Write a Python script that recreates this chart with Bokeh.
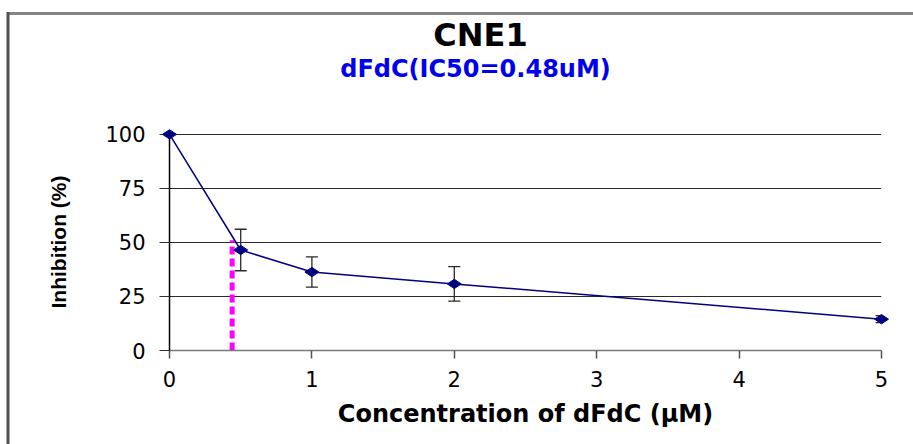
import numpy as np
from bokeh.plotting import figure
from bokeh.models import Range1d, FixedTicker, Whisker, ColumnDataSource, TeeHead
from bokeh.core.properties import value
from bokeh.embed import file_html
from bokeh.resources import INLINE

# ---- data ----
conc = [0, 0.5, 1, 2, 5]
inhibition = [100, 46.5, 36.3, 30.8, 14.5]
err = [0, 9.6, 7.0, 8.0, 1.6]
ic50_x = [0.44, 0.44]
ic50_y = [0, 51]
x_ticks = [0, 1, 2, 3, 4, 5]
y_ticks = [0, 25, 50, 75, 100]
title_text = "CNE1"
subtitle_text = "dFdC(IC50=0.48uM)"
x_title = "Concentration of dFdC (µM)"
y_title = "Inhibition (%)"

W, H = 913, 444
FL, FR, FT, FB = 169, 881, 134, 350   # frame edges in pixels
X0, X1, Y0, Y1 = 0, 5, 0, 100.4

p = figure(width=W, height=H, output_backend="svg", toolbar_location=None,
           x_range=Range1d(X0, X1), y_range=Range1d(Y0, Y1),
           min_border_left=FL, min_border_right=W - FR,
           min_border_top=FT - 1, min_border_bottom=H - FB,
           background_fill_color="white", border_fill_color="white")
p.outline_line_color = None
p.xgrid.grid_line_color = None
p.ygrid.grid_line_color = "#2a2a2a"
p.ygrid.grid_line_width = 1
p.ygrid.ticker = FixedTicker(ticks=y_ticks)

# axes
p.xaxis.ticker = FixedTicker(ticks=x_ticks)
p.yaxis.ticker = FixedTicker(ticks=y_ticks)
for ax in (p.xaxis, p.yaxis):
    ax.minor_tick_line_color = None
    ax.major_tick_in = 0
    ax.major_label_text_font = "DejaVu Sans"
    ax.major_label_text_font_size = "21px"
    ax.major_label_text_color = "black"
    ax.axis_label_text_font_style = "bold"
    ax.axis_label_text_color = "black"

p.xaxis.axis_line_color = "#7a7a7a"
p.xaxis.axis_line_width = 1.5
p.xaxis.major_tick_line_color = "#555555"
p.xaxis.major_tick_line_width = 1.5
p.xaxis.major_tick_out = 8
p.xaxis.major_label_standoff = 12
p.xaxis.axis_label = x_title
p.xaxis.axis_label_text_font = "DejaVu Sans"
p.xaxis.axis_label_text_font_size = "24px"
p.xaxis.axis_label_standoff = 10

p.yaxis.axis_line_color = "black"
p.yaxis.axis_line_width = 1.5
p.yaxis.major_tick_line_color = "#333333"
p.yaxis.major_tick_out = 10
p.yaxis.major_label_standoff = 14
p.yaxis.axis_label = y_title
p.yaxis.axis_label_text_font = "Liberation Sans"
p.yaxis.axis_label_text_font_size = "21px"
p.yaxis.axis_label_standoff = 32


# pixel -> data helpers (for decoration placed outside the plot frame)
def dx(px):
    return X0 + (px - FL) / (FR - FL) * (X1 - X0)


def dy(py):
    return Y0 + (FB - py) / (FB - FT) * (Y1 - Y0)


# chart-area border (top and left edges), drawn unclipped
p.segment(x0=[dx(7)], y0=[dy(14.5)], x1=[dx(W + 20)], y1=[dy(14.5)],
          line_color="#858585", line_width=3, level="overlay")
p.segment(x0=[dx(7.5)], y0=[dy(13)], x1=[dx(7.5)], y1=[dy(H + 20)],
          line_color="#505050", line_width=3, level="overlay")

# IC50 marker line
p.line(ic50_x, ic50_y, line_color="#ff00ff", line_width=5, line_dash="8 4")

# error bars
upper = [v + e for v, e in zip(inhibition, err)]
lower = [v - e for v, e in zip(inhibition, err)]
keep = [i for i, e in enumerate(err) if e > 0]
src_err = ColumnDataSource(dict(x=[conc[i] for i in keep],
                                upper=[upper[i] for i in keep],
                                lower=[lower[i] for i in keep]))
p.add_layout(Whisker(base="x", upper="upper", lower="lower", source=src_err,
                     dimension="height", line_color="#2a2a2a", line_width=1.3,
                     upper_head=TeeHead(size=12, line_color="#2a2a2a", line_width=1.3),
                     lower_head=TeeHead(size=12, line_color="#2a2a2a", line_width=1.3)))

# series
p.line(conc, inhibition, line_color="#000080", line_width=1.5, level="overlay")
p.scatter(conc, inhibition, marker="diamond", angle=np.pi / 2, size=14,
          fill_color="#000080", line_color="#000080", level="overlay")

# titles
p.text(x=[dx(480)], y=[dy(36)], text=[title_text], text_align="center",
       text_baseline="middle", text_font=value("DejaVu Sans"),
       text_font_style="bold", text_font_size="32px", text_color="black",
       level="overlay")
p.text(x=[dx(475)], y=[dy(70)], text=[subtitle_text], text_align="center",
       text_baseline="middle", text_font=value("DejaVu Sans"),
       text_font_style="bold", text_font_size="24px", text_color="#0000ee",
       level="overlay")

open("out.html", "w").write(file_html(p, INLINE))
